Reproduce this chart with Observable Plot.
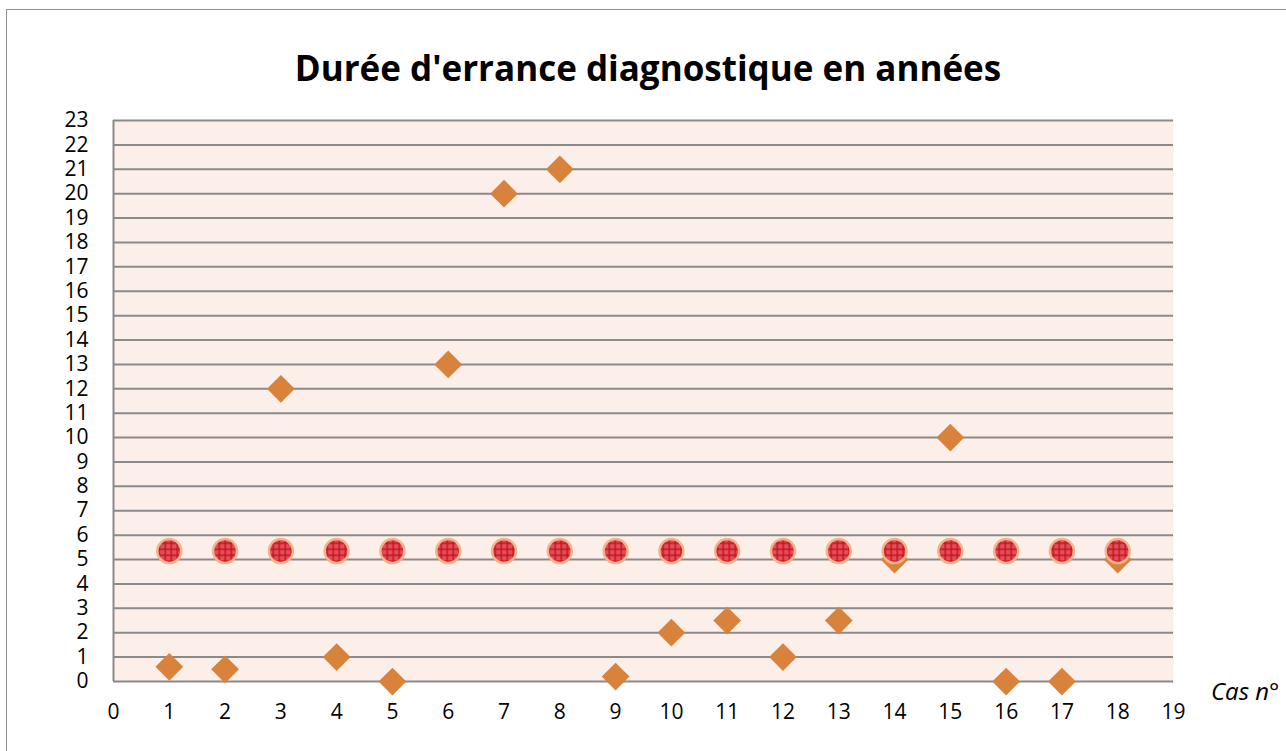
<!DOCTYPE html>
<html>
<head>
<meta charset="utf-8">
<script src="https://cdn.jsdelivr.net/npm/d3@7"></script>
<script src="https://cdn.jsdelivr.net/npm/@observablehq/plot@0.6"></script>
<style>
  html, body { margin: 0; padding: 0; background: #fff; overflow: hidden; }
  #wrap { position: relative; width: 1286px; height: 751px; overflow: hidden; }
  #border { position: absolute; left: 6px; top: 9px; width: 1400px; height: 900px; border: 1px solid #8e8e8e; box-sizing: border-box; }
  #title { position: absolute; left: 0; width: 1296px; top: 44px; text-align: center; font-family: "Open Sans", sans-serif; font-weight: bold; font-size: 35px; color: #000; }
  #xlabel { position: absolute; left: 1211px; top: 674px; font-family: "Open Sans", sans-serif; font-style: italic; font-size: 24px; color: #000; }
  #chart { position: absolute; left: 0; top: 0; }
  #chart svg text { font-size: 21px; }
</style>
</head>
<body>
<div id="wrap">
  <div id="border"></div>
  <div id="title">Durée d'errance diagnostique en années</div>
  <div id="chart"></div>
  <div id="xlabel">Cas n°</div>
</div>
<script>
const cases = [1, 2, 3, 4, 5, 6, 7, 8, 9, 10, 11, 12, 13, 14, 15, 16, 17, 18];
const durations = [0.6, 0.5, 12, 1, 0, 13, 20, 21, 0.2, 2, 2.5, 1, 2.5, 5, 10, 0, 0, 5];
const meanValues = [5.35, 5.35, 5.35, 5.35, 5.35, 5.35, 5.35, 5.35, 5.35, 5.35, 5.35, 5.35, 5.35, 5.35, 5.35, 5.35, 5.35, 5.35];
const xTicks = [0, 1, 2, 3, 4, 5, 6, 7, 8, 9, 10, 11, 12, 13, 14, 15, 16, 17, 18, 19];
const yTicks = [0, 1, 2, 3, 4, 5, 6, 7, 8, 9, 10, 11, 12, 13, 14, 15, 16, 17, 18, 19, 20, 21, 22, 23];

const durData = cases.map((c, i) => ({cas: c, v: durations[i]}));
const meanData = cases.map((c, i) => ({cas: c, v: meanValues[i]}));

const NS = "http://www.w3.org/2000/svg";
function patternDefs() {
  const defs = document.createElementNS(NS, "defs");
  const pat = document.createElementNS(NS, "pattern");
  pat.setAttribute("id", "meanPat");
  pat.setAttribute("patternUnits", "userSpaceOnUse");
  pat.setAttribute("width", "6");
  pat.setAttribute("height", "6");
  const bg = document.createElementNS(NS, "rect");
  bg.setAttribute("width", "6"); bg.setAttribute("height", "6"); bg.setAttribute("fill", "#e0505a");
  pat.appendChild(bg);
  const h = document.createElementNS(NS, "rect");
  h.setAttribute("y", "2"); h.setAttribute("width", "6"); h.setAttribute("height", "1.4"); h.setAttribute("fill", "#c8101c");
  pat.appendChild(h);
  const v = document.createElementNS(NS, "rect");
  v.setAttribute("x", "2"); v.setAttribute("width", "1.4"); v.setAttribute("height", "6"); v.setAttribute("fill", "#c8101c");
  pat.appendChild(v);
  defs.appendChild(pat);
  return defs;
}

const plot = Plot.plot({
  width: 1286,
  height: 751,
  marginLeft: 113,
  marginRight: 113,
  marginTop: 120,
  marginBottom: 70,
  style: {background: "transparent", fontFamily: "Open Sans, sans-serif", fontSize: "21px", color: "#000"},
  x: {domain: [0, 19], label: null},
  y: {domain: [0, 23], label: null},
  marks: [
    patternDefs,
    Plot.frame({fill: "#fcefe9", stroke: null}),
    Plot.gridY(yTicks, {stroke: "#8a8a8a", strokeOpacity: 1, strokeWidth: 2}),
    Plot.ruleX([0], {stroke: "#8a8a8a", strokeWidth: 2}),
    Plot.axisX({ticks: xTicks, tickSize: 0, tickPadding: 23, label: null}),
    Plot.axisY({ticks: yTicks, tickSize: 0, tickPadding: 25, label: null}),
    Plot.dot(durData, {x: "cas", y: "v", symbol: "diamond2", r: 12.5, fill: "#d9823b", stroke: null}),
    Plot.dot(meanData, {x: "cas", y: "v", symbol: "circle", r: 12, fill: "url(#meanPat)", stroke: "#f5b38c", strokeWidth: 2.5})
  ]
});
document.getElementById("chart").appendChild(plot);
</script>
</body>
</html>
